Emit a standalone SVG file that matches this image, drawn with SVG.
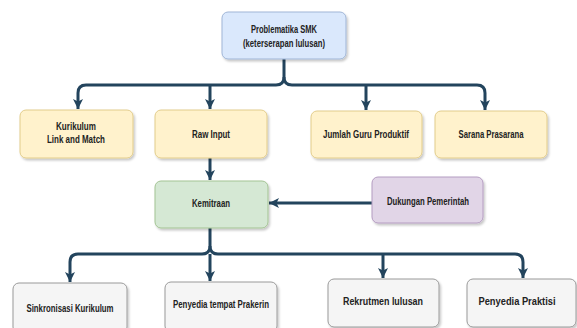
<svg xmlns="http://www.w3.org/2000/svg" width="577" height="328" viewBox="0 0 577 328">
<defs>
<filter id="sh" x="-10%" y="-10%" width="125%" height="130%">
<feDropShadow dx="1.5" dy="2" stdDeviation="1.2" flood-color="#000" flood-opacity="0.22"/>
</filter>
<marker id="ah" markerUnits="userSpaceOnUse" markerWidth="12" markerHeight="12" viewBox="0 0 12 12" refX="11" refY="6" orient="auto">
<path d="M1,1 L11,6 L1,11 L3.5,6 Z" fill="#23445d"/>
</marker>
<style>
.box{stroke-width:1;filter:url(#sh)}
.blue{fill:#dae8fc;stroke:#9fb5d6}
.yel{fill:#fff2cc;stroke:#e2cc8a}
.grn{fill:#d5e8d4;stroke:#a3c393}
.pur{fill:#e1d5e7;stroke:#b49cc1}
.gry{fill:#f5f5f5;stroke:#9a9a9a}
text{font-family:"Liberation Sans",Arial,sans-serif;font-weight:bold;font-size:10px;fill:#222;text-anchor:middle}
.c{fill:none;stroke:#23445d;stroke-width:3}
</style>
</defs>
<g id="connectors">
<path class="c" d="M284,59 V77 Q284,85 276,85 H86 Q78,85 78,93 V109" marker-end="url(#ah)"/>
<path class="c" d="M284,77 Q284,85 292,85 H477 Q485,85 485,93 V110" marker-end="url(#ah)"/>
<path class="c" d="M210,85 V109" marker-end="url(#ah)"/>
<path class="c" d="M366,85 V110" marker-end="url(#ah)"/>
<path class="c" d="M210,158 V180" marker-end="url(#ah)"/>
<path class="c" d="M372,203 H269" marker-end="url(#ah)"/>
<path class="c" d="M210,228 V246 Q210,254 202,254 H78 Q70,254 70,262 V282" marker-end="url(#ah)"/>
<path class="c" d="M210,246 Q210,254 218,254 H515 Q523,254 523,262 V278" marker-end="url(#ah)"/>
<path class="c" d="M210,254 V281" marker-end="url(#ah)"/>
<path class="c" d="M383,254 V278" marker-end="url(#ah)"/>
</g>
<g id="n-problematika">
<rect class="box blue" x="222" y="12" width="124" height="47" rx="6"/>
<text x="284" y="33" textLength="66" lengthAdjust="spacingAndGlyphs">Problematika SMK</text>
<text x="284" y="47" textLength="82" lengthAdjust="spacingAndGlyphs">(keterserapan lulusan)</text>
</g>
<g id="n-kurikulum">
<rect class="box yel" x="20" y="110" width="113" height="48" rx="6"/>
<text x="76" y="130" textLength="40" lengthAdjust="spacingAndGlyphs">Kurikulum</text>
<text x="76" y="143" textLength="58" lengthAdjust="spacingAndGlyphs">Link and Match</text>
</g>
<g id="n-raw">
<rect class="box yel" x="155" y="110" width="112" height="48" rx="6"/>
<text x="211" y="138" textLength="38" lengthAdjust="spacingAndGlyphs">Raw Input</text>
</g>
<g id="n-guru">
<rect class="box yel" x="311" y="111" width="111" height="47" rx="6"/>
<text x="366" y="138" textLength="86" lengthAdjust="spacingAndGlyphs">Jumlah Guru Produktif</text>
</g>
<g id="n-sarana">
<rect class="box yel" x="435" y="111" width="112" height="47" rx="6"/>
<text x="491" y="138" textLength="65" lengthAdjust="spacingAndGlyphs">Sarana Prasarana</text>
</g>
<g id="n-kemitraan">
<rect class="box grn" x="155" y="181" width="113" height="47" rx="6"/>
<text x="211" y="207" textLength="38" lengthAdjust="spacingAndGlyphs">Kemitraan</text>
</g>
<g id="n-dukungan">
<rect class="box pur" x="372" y="177" width="111" height="46" rx="6"/>
<text x="428" y="205" textLength="82" lengthAdjust="spacingAndGlyphs">Dukungan Pemerintah</text>
</g>
<g id="n-sinkronisasi">
<rect class="box gry" x="13" y="283" width="114" height="50" rx="6"/>
<text x="70" y="312" textLength="87" lengthAdjust="spacingAndGlyphs">Sinkronisasi Kurikulum</text>
</g>
<g id="n-prakerin">
<rect class="box gry" x="165" y="282" width="112" height="50" rx="6"/>
<text x="221" y="308" textLength="96" lengthAdjust="spacingAndGlyphs">Penyedia tempat Prakerin</text>
</g>
<g id="n-rekrutmen">
<rect class="box gry" x="328" y="279" width="111" height="48" rx="6"/>
<text x="383" y="305" textLength="80" lengthAdjust="spacingAndGlyphs">Rekrutmen lulusan</text>
</g>
<g id="n-praktisi">
<rect class="box gry" x="467" y="279" width="109" height="48" rx="6"/>
<text x="517" y="305" textLength="77" lengthAdjust="spacingAndGlyphs">Penyedia Praktisi</text>
</g>
</svg>
